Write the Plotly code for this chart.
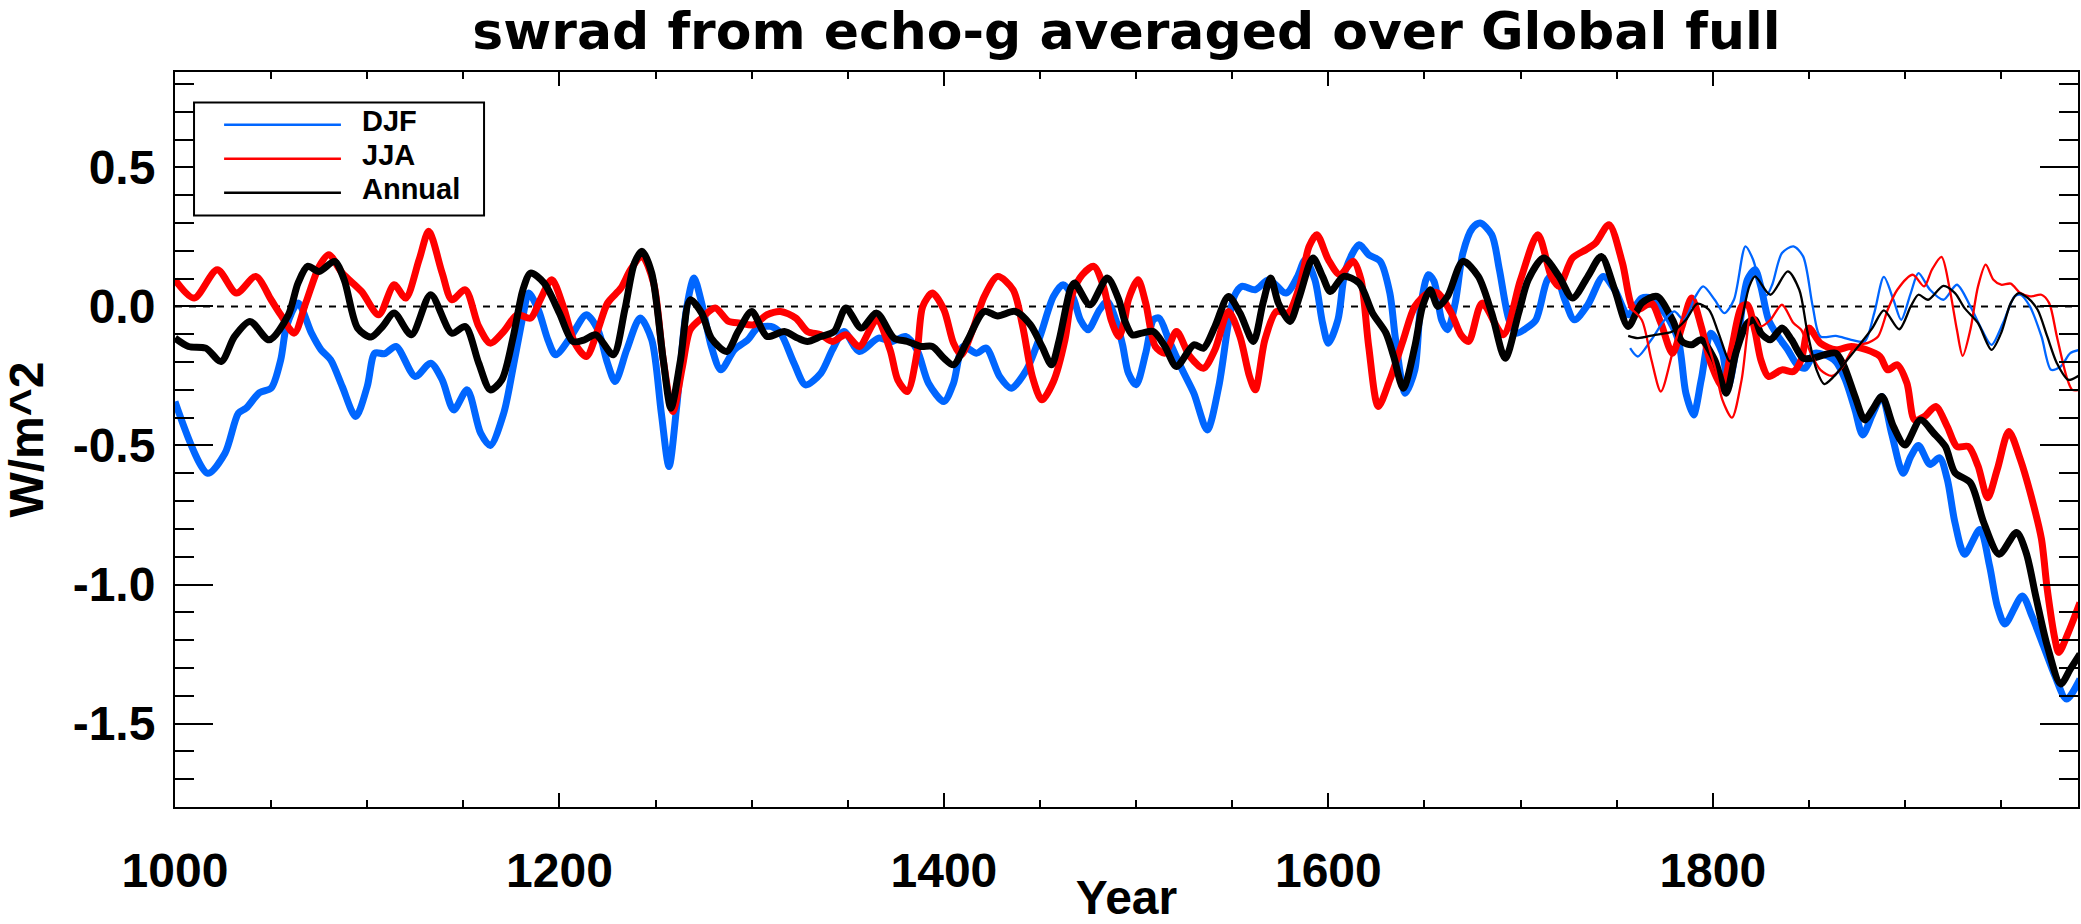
import plotly.graph_objects as go

# ---- data (smoothed series, W/m^2) ----
djf_years = [1000, 1017, 1026, 1033, 1037, 1044, 1050, 1055, 1058, 1064, 1071, 1076, 1081, 1087, 1094,
             1100, 1104, 1109, 1115, 1125, 1133, 1139, 1145, 1152, 1159, 1164, 1171, 1176, 1181, 1184,
             1189, 1194, 1198, 1206, 1214, 1220, 1225, 1229, 1235, 1242, 1248, 1253, 1257, 1261, 1266,
             1270, 1274, 1279, 1284, 1291, 1298, 1303, 1310, 1315, 1322, 1328, 1336, 1342, 1348, 1356,
             1366, 1373, 1380, 1386, 1392, 1400, 1405, 1410, 1417, 1422, 1429, 1435, 1443, 1450, 1457,
             1462, 1467, 1471, 1475, 1481, 1485, 1490, 1493, 1496, 1500, 1505, 1509, 1512, 1517, 1524,
             1530, 1537, 1543, 1548, 1551, 1555, 1562, 1569, 1578, 1584, 1588, 1593, 1597, 1600, 1605,
             1609, 1616, 1621, 1627, 1632, 1635, 1640, 1645, 1648, 1652, 1655, 1659, 1662, 1666, 1670,
             1675, 1679, 1685, 1689, 1694, 1698, 1703, 1708, 1714, 1718, 1723, 1728, 1735, 1743, 1749,
             1756, 1763, 1768, 1775, 1782, 1786, 1790, 1794, 1799, 1805, 1808, 1813, 1818, 1822, 1825,
             1829, 1834, 1839, 1844, 1848, 1853, 1858, 1864, 1869, 1874, 1878, 1883, 1888, 1893, 1899,
             1903, 1907, 1913, 1918, 1922, 1926, 1931, 1939, 1944, 1948, 1952, 1961, 1966, 1972, 1978,
             1984, 1991]
djf = [-0.342, -0.60, -0.528, -0.384, -0.366, -0.31, -0.294, -0.192, -0.072, 0.012, -0.096, -0.156,
       -0.192, -0.288, -0.396, -0.288, -0.168, -0.17, -0.144, -0.252, -0.204, -0.264, -0.372, -0.30,
       -0.456, -0.50, -0.384, -0.216, -0.036, 0.048, -0.012, -0.12, -0.174, -0.108, -0.03, -0.084,
       -0.204, -0.27, -0.156, -0.042, -0.12, -0.384, -0.576, -0.36, -0.012, 0.102, 0.012, -0.144,
       -0.228, -0.156, -0.12, -0.078, -0.072, -0.096, -0.204, -0.282, -0.24, -0.156, -0.09, -0.162,
       -0.114, -0.126, -0.108, -0.156, -0.276, -0.342, -0.276, -0.144, -0.168, -0.15, -0.252, -0.294,
       -0.228, -0.108, 0.036, 0.078, 0.036, -0.048, -0.084, -0.012, 0.018, -0.06, -0.14, -0.24,
       -0.282, -0.168, -0.048, -0.042, -0.12, -0.228, -0.312, -0.444, -0.288, -0.06, 0.036, 0.072,
       0.06, 0.096, 0.048, 0.108, 0.168, 0.096, -0.06, -0.132, -0.048, 0.132, 0.222, 0.186, 0.162,
       0.048, -0.12, -0.312, -0.228, 0.0, 0.114, 0.09, -0.05, -0.084, 0.012, 0.192, 0.282, 0.30,
       0.258, 0.132, -0.048, -0.096, -0.078, -0.048, 0.096, 0.12, 0.024, -0.048, 0.006, 0.108, 0.06,
       -0.03, 0.03, 0.03, -0.024, -0.12, -0.312, -0.39, -0.264, -0.096, -0.168, -0.288, -0.12, 0.096,
       0.132, 0.072, -0.048, -0.108, -0.156, -0.21, -0.222, -0.168, -0.174, -0.198, -0.264, -0.372,
       -0.462, -0.39, -0.324, -0.456, -0.60, -0.54, -0.50, -0.568, -0.544, -0.622, -0.778, -0.891,
       -0.802, -0.933, -1.077, -1.142, -1.041, -1.113, -1.22, -1.328, -1.412, -1.34]

jja_years = [1000, 1010, 1022, 1032, 1042, 1050, 1055, 1062, 1068, 1075, 1080, 1087, 1097, 1106, 1114,
             1120, 1127, 1132, 1139, 1144, 1151, 1158, 1164, 1171, 1178, 1185, 1190, 1196, 1202, 1208,
             1214, 1220, 1225, 1232, 1237, 1243, 1249, 1254, 1259, 1264, 1268, 1274, 1281, 1288, 1294,
             1301, 1308, 1315, 1323, 1329, 1336, 1342, 1349, 1356, 1365, 1372, 1376, 1381, 1386, 1389,
             1394, 1400, 1405, 1409, 1415, 1421, 1428, 1436, 1441, 1446, 1451, 1457, 1463, 1467, 1472,
             1478, 1483, 1487, 1491, 1494, 1496, 1501, 1505, 1510, 1515, 1521, 1528, 1535, 1541, 1548,
             1554, 1559, 1562, 1567, 1573, 1579, 1585, 1590, 1594, 1600, 1606, 1613, 1617, 1621, 1626,
             1632, 1639, 1645, 1652, 1657, 1664, 1669, 1673, 1680, 1691, 1700, 1709, 1716, 1720, 1727,
             1734, 1739, 1746, 1753, 1758, 1761, 1768, 1773, 1779, 1784, 1789, 1794, 1799, 1805, 1810,
             1815, 1818, 1822, 1825, 1829, 1836, 1842, 1846, 1850, 1856, 1864, 1872, 1880, 1887, 1891,
             1896, 1901, 1905, 1910, 1916, 1922, 1927, 1933, 1938, 1943, 1948, 1954, 1960, 1967, 1971,
             1974, 1978, 1980, 1985, 1991]
jja = [0.096, 0.03, 0.132, 0.048, 0.108, 0.024, -0.03, -0.096, 0.012, 0.144, 0.186, 0.12, 0.054,
       -0.03, 0.078, 0.03, 0.168, 0.27, 0.12, 0.024, 0.06, -0.072, -0.132, -0.09, -0.03, -0.042,
       0.024, 0.096, 0.0, -0.132, -0.18, -0.084, 0.012, 0.066, 0.132, 0.18, 0.084, -0.192, -0.378,
       -0.216, -0.084, -0.042, -0.006, -0.054, -0.06, -0.066, -0.03, -0.018, -0.042, -0.09, -0.102,
       -0.126, -0.102, -0.144, -0.048, -0.156, -0.264, -0.306, -0.168, 0.0, 0.048, -0.012, -0.132,
       -0.174, -0.084, 0.036, 0.108, 0.06, -0.072, -0.252, -0.336, -0.27, -0.12, 0.048, 0.114, 0.144,
       0.072, -0.048, -0.108, -0.05, 0.024, 0.096, 0.012, -0.144, -0.168, -0.09, -0.18, -0.222,
       -0.156, -0.018, -0.108, -0.252, -0.30, -0.12, -0.018, -0.024, 0.072, 0.216, 0.258, 0.168,
       0.114, 0.162, 0.096, -0.144, -0.36, -0.264, -0.12, 0.0, 0.048, 0.048, -0.024, -0.102, -0.126,
       0.012, -0.102, 0.096, 0.258, 0.108, 0.072, 0.174, 0.204, 0.228, 0.294, 0.156, 0.0, -0.012,
       0.012, -0.06, -0.168, -0.072, 0.03, -0.072, -0.204, -0.288, -0.144, 0.0, 0.006, -0.09, -0.192,
       -0.252, -0.228, -0.234, -0.192, -0.078, -0.132, -0.156, -0.144, -0.156, -0.18, -0.228, -0.21,
       -0.276, -0.408, -0.396, -0.36, -0.432, -0.504, -0.504, -0.574, -0.688, -0.586, -0.45, -0.55,
       -0.718, -0.837, -1.017, -1.196, -1.244, -1.172, -1.065]

ann_years = [1000, 1007, 1016, 1024, 1031, 1039, 1049, 1059, 1064, 1069, 1075, 1083, 1088, 1095, 1102,
             1108, 1114, 1123, 1133, 1144, 1151, 1158, 1164, 1170, 1176, 1181, 1185, 1192, 1200, 1207,
             1213, 1219, 1228, 1234, 1239, 1243, 1248, 1254, 1258, 1263, 1268, 1274, 1279, 1287, 1293,
             1300, 1308, 1317, 1324, 1329, 1336, 1343, 1349, 1357, 1365, 1374, 1381, 1388, 1394, 1400,
             1405, 1412, 1421, 1428, 1437, 1445, 1451, 1456, 1460, 1466, 1468, 1476, 1485, 1491, 1494,
             1498, 1503, 1509, 1515, 1521, 1530, 1535, 1541, 1548, 1554, 1561, 1566, 1570, 1574, 1580,
             1585, 1592, 1597, 1601, 1608, 1616, 1623, 1630, 1634, 1639, 1645, 1649, 1653, 1657, 1662,
             1670, 1678, 1685, 1692, 1699, 1704, 1712, 1720, 1727, 1735, 1742, 1749, 1756, 1763, 1771,
             1779, 1784, 1789, 1794, 1801, 1807, 1812, 1818, 1822, 1825, 1830, 1836, 1841, 1847, 1852,
             1858, 1864, 1868, 1874, 1879, 1883, 1888, 1894, 1900, 1908, 1915, 1921, 1926, 1934, 1941,
             1949, 1958, 1963, 1968, 1974, 1981, 1986, 1991]
ann = [-0.114, -0.144, -0.15, -0.198, -0.108, -0.054, -0.12, -0.03, 0.084, 0.144, 0.126, 0.162,
       0.096, -0.078, -0.11, -0.072, -0.024, -0.102, 0.042, -0.096, -0.072, -0.204, -0.30, -0.264,
       -0.108, 0.06, 0.12, 0.084, -0.024, -0.126, -0.12, -0.102, -0.174, -0.012, 0.156, 0.198, 0.12,
       -0.192, -0.366, -0.192, 0.024, -0.024, -0.114, -0.162, -0.09, -0.018, -0.108, -0.09, -0.114,
       -0.126, -0.108, -0.09, -0.006, -0.078, -0.024, -0.114, -0.126, -0.144, -0.144, -0.186, -0.21,
       -0.126, -0.018, -0.034, -0.018, -0.066, -0.144, -0.21, -0.12, 0.066, 0.084, 0.006, 0.102,
       0.024, -0.05, -0.102, -0.096, -0.09, -0.144, -0.216, -0.138, -0.15, -0.072, 0.036, -0.024,
       -0.126, 0.012, 0.102, 0.012, -0.054, 0.036, 0.174, 0.108, 0.054, 0.108, 0.084, -0.024, -0.096,
       -0.18, -0.294, -0.144, 0.0, 0.06, 0.0, 0.036, 0.162, 0.108, -0.024, -0.186, -0.024, 0.096,
       0.174, 0.108, 0.03, 0.108, 0.18, 0.06, -0.072, 0.012, 0.036, -0.048, -0.126, -0.138, -0.12,
       -0.192, -0.312, -0.168, -0.06, -0.048, -0.096, -0.12, -0.078, -0.12, -0.186, -0.186, -0.174,
       -0.168, -0.21, -0.324, -0.408, -0.372, -0.324, -0.432, -0.498, -0.408, -0.456, -0.504, -0.598,
       -0.634, -0.778, -0.891, -0.813, -0.885, -1.041, -1.22, -1.358, -1.304, -1.25]

# second (thin) set, from 1756 on
djf2_years = [1757, 1761, 1768, 1775, 1780, 1785, 1791, 1795, 1801, 1806, 1811, 1817, 1821, 1825, 1828,
              1831, 1836, 1842, 1847, 1852, 1856, 1864, 1872, 1879, 1884, 1889, 1894, 1898, 1903, 1907,
              1913, 1920, 1927, 1934, 1940, 1945, 1951, 1957, 1960, 1965, 1971, 1976, 1981, 1986, 1991]
djf2 = [-0.15, -0.18, -0.12, -0.048, -0.018, -0.048, 0.036, 0.072, 0.024, -0.024, 0.024, 0.216, 0.168,
        0.07, 0.04, 0.08, 0.192, 0.216, 0.18, 0.0, -0.108, -0.106, -0.12, -0.126, -0.024, 0.106,
        0.024, -0.048, 0.048, 0.12, 0.06, 0.024, 0.078, 0.0, -0.084, -0.138, -0.06, 0.036, 0.042, 0.0,
        -0.108, -0.228, -0.216, -0.168, -0.156]

jja2_years = [1756, 1763, 1768, 1773, 1779, 1784, 1789, 1794, 1801, 1805, 1810, 1815, 1820, 1822, 1825,
              1830, 1836, 1842, 1846, 1851, 1856, 1862, 1867, 1874, 1881, 1886, 1891, 1896, 1904, 1910,
              1914, 1919, 1923, 1927, 1930, 1934, 1938, 1942, 1946, 1950, 1955, 1960, 1965, 1971, 1975,
              1979, 1984, 1987, 1991]
jja2 = [0.0, -0.048, -0.19, -0.306, -0.168, -0.048, 0.036, -0.06, -0.216, -0.336, -0.40, -0.264,
        -0.024, -0.04, -0.072, -0.048, 0.006, -0.06, -0.084, -0.168, -0.228, -0.25, -0.222, -0.144,
        -0.13, -0.108, -0.012, 0.06, 0.114, 0.072, 0.132, 0.178, 0.072, -0.084, -0.178, -0.084, 0.072,
        0.15, 0.096, 0.078, 0.082, 0.048, 0.036, 0.042, 0.012, -0.108, -0.252, -0.30, -0.30]

ann2_years = [1756, 1761, 1770, 1779, 1786, 1792, 1798, 1803, 1809, 1815, 1819, 1822, 1830, 1839, 1845,
              1849, 1854, 1858, 1863, 1870, 1877, 1883, 1889, 1897, 1903, 1907, 1912, 1920, 1926, 1931,
              1938, 1945, 1950, 1955, 1959, 1964, 1969, 1974, 1979, 1985, 1991]
ann2 = [-0.106, -0.114, -0.102, -0.09, -0.048, 0.01, -0.012, -0.096, -0.198, -0.048, 0.072, 0.108,
        0.042, 0.126, 0.06, -0.084, -0.228, -0.279, -0.252, -0.192, -0.132, -0.078, -0.014, -0.082,
        0.0, 0.042, 0.024, 0.074, 0.048, -0.006, -0.06, -0.156, -0.096, 0.012, 0.048, 0.03, -0.012,
        -0.108, -0.204, -0.264, -0.246]

series_names = ["DJF", "JJA", "Annual"]
series_colors = ["#0066ff", "#ff0000", "#000000"]

# y tick labels as printed (plain hyphen minus)
y_tickvals = [-1.5, -1.0, -0.5, 0.0, 0.5]
y_ticktext = ["-1.5", "-1.0", "-0.5", "0.0", "0.5"]

FONT = "Liberation Sans, Arial, Helvetica, sans-serif"
TITLE_FONT = "DejaVu Sans, Verdana, sans-serif"

fig = go.Figure()

thick = [(djf_years, djf), (jja_years, jja), (ann_years, ann)]
thin = [(djf2_years, djf2), (jja2_years, jja2), (ann2_years, ann2)]

for (xs, ys), name, col in zip(thick, series_names, series_colors):
    fig.add_trace(go.Scatter(x=xs, y=ys, mode="lines", name=name, showlegend=False,
                             line=dict(color=col, width=7, shape="spline", smoothing=0.8)))
for (xs, ys), name, col in zip(thin, series_names, series_colors):
    fig.add_trace(go.Scatter(x=xs, y=ys, mode="lines", name=name + " (2)", showlegend=False,
                             line=dict(color=col, width=2.3, shape="spline", smoothing=0.8)))

# dotted zero line
fig.add_shape(type="line", xref="paper", x0=0, x1=1, yref="y", y0=0, y1=0,
              line=dict(color="black", width=2, dash="7px,7px"), layer="below")

# legend box drawn by hand (IDL style)
fig.add_shape(type="rect", xref="paper", yref="paper", x0=0.010, x1=0.1624, y0=0.8047, y1=0.9586,
              line=dict(color="black", width=2), fillcolor="white")
leg_text_y = [0.9337, 0.8874, 0.8411]
leg_line_y = [0.9282, 0.8819, 0.8356]
for name, col, ty, ly in zip(series_names, series_colors, leg_text_y, leg_line_y):
    fig.add_shape(type="line", xref="paper", yref="paper", x0=0.0258, x1=0.0872, y0=ly, y1=ly,
                  line=dict(color=col, width=2.5))
    fig.add_annotation(text=name, xref="paper", yref="paper", x=0.0977, y=ty,
                       xanchor="left", yanchor="middle", showarrow=False, borderpad=0,
                       font=dict(size=29, family=FONT, color="black", weight="bold"))

fig.update_layout(
    width=2081, height=924,
    margin=dict(l=175, r=3, t=72, b=117, autoexpand=False),
    paper_bgcolor="white", plot_bgcolor="white",
    showlegend=False,
    font=dict(family=FONT, size=48, color="black", weight="bold"),
    title=dict(text="swrad from echo-g averaged over Global full", x=0.5, xref="paper",
               xanchor="center", y=0.9665, yref="container", yanchor="middle",
               font=dict(size=52, family=TITLE_FONT, color="black", weight="bold")),
    xaxis=dict(range=[1000, 1990], showline=True, linecolor="black", linewidth=2, mirror="ticks",
               ticks="inside", ticklen=14, tickwidth=2, tickcolor="black",
               tick0=1000, dtick=200, showgrid=False, zeroline=False,
               ticklabelstandoff=20,
               minor=dict(ticks="inside", ticklen=7, tickwidth=2, tickcolor="black",
                          tick0=1000, dtick=50, showgrid=False),
               title=dict(text="Year", standoff=26, font=dict(size=48))),
    yaxis=dict(range=[-1.8, 0.843], showline=True, linecolor="black", linewidth=2, mirror="ticks",
               ticks="inside", ticklen=38, tickwidth=2, tickcolor="black",
               tickvals=y_tickvals, ticktext=y_ticktext, showgrid=False, zeroline=False,
               ticklabelstandoff=8,
               minor=dict(ticks="inside", ticklen=19, tickwidth=2, tickcolor="black",
                          tick0=0, dtick=0.1, showgrid=False),
               title=dict(text="W/m^2", standoff=38, font=dict(size=48))),
)

fig.write_html("out.html", config={"displayModeBar": False},
               post_script="document.body.style.margin='0';document.body.style.overflow='hidden';")
